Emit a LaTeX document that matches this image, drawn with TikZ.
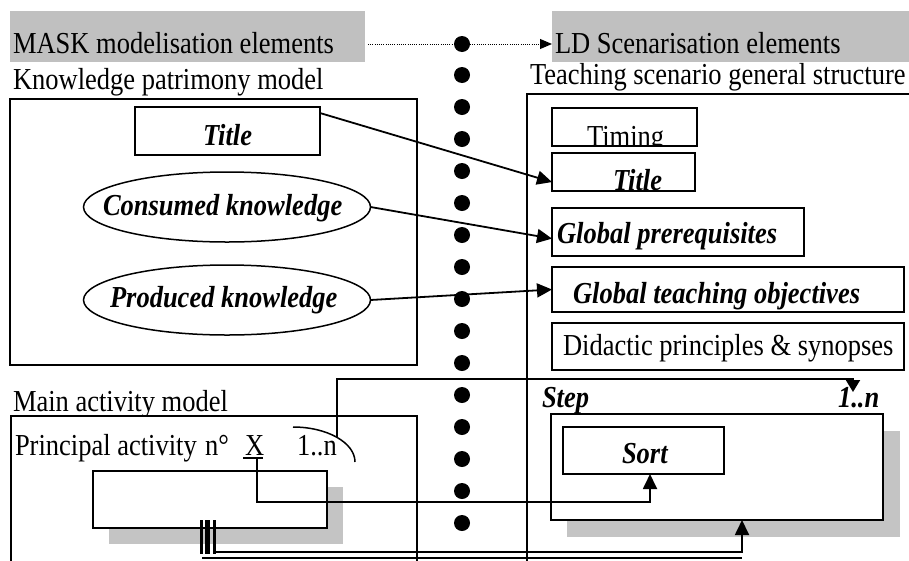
\documentclass[tikz,border=0pt]{standalone}
\usepackage{fontspec}
\usepackage{graphicx}
\setmainfont{Liberation Serif}
\usetikzlibrary{shapes.geometric,arrows.meta,calc}
\definecolor{hdrgray}{RGB}{192,192,192}
\definecolor{shgray}{RGB}{196,196,196}
\newcommand{\stt}[1]{\scalebox{1}[1.15]{#1}}
\begin{document}
\begin{tikzpicture}[x=1pt,y=-1pt,
  every node/.style={inner sep=0pt,outer sep=0pt},
  txt/.style={anchor=base west,font=\fontsize{26.5}{30}\selectfont},
  bitxt/.style={anchor=base west,font=\fontsize{26.5}{30}\selectfont\bfseries\itshape},
  box/.style={draw,line width=1.8pt,fill=white,rectangle},
  ell/.style={draw,ellipse,line width=1.5pt,minimum width=287pt,minimum height=70pt},
  arr/.style={line width=1.8pt,-{Triangle[length=15pt,width=14pt]}},
  link/.style={line width=1.8pt},
  hdr/.style={line width=1pt,dash pattern=on 1pt off 1.2pt},
  dot/.style={circle,fill=black,minimum size=16pt}]

\useasboundingbox (0,0) rectangle (909,560);
\clip (0,0) rectangle (909,560);

% header
\node[fill=hdrgray,minimum width=355pt,minimum height=51pt] (mask) at (187.5,36.5) {};
\node[fill=hdrgray,minimum width=363pt,minimum height=51pt] (ld) at (733.5,36.5) {};
\node[txt] (masktxt) at (13,53) {\stt{MASK modelisation elements}};
\node[txt] (ldtxt) at (555,53) {\stt{LD Scenarisation elements}};

% dots column
\node[dot] (hdot) at (462,44) {};
\foreach \k in {0,...,14} \node[dot] (d\k) at (462,75+32*\k) {};
\draw[hdr] ([xshift=3pt,yshift=-7.5pt]mask.east) -- (hdot.west);
\draw[hdr,-{Triangle[length=12pt,width=10pt]}] (hdot.east) -- (ld.west |- hdot);

% knowledge patrimony model
\node[txt] (ktxt) at (13,89) {\stt{Knowledge patrimony model}};
\node[box,minimum width=407pt,minimum height=266pt] (kbox) at (213.5,232) {};
\node[box,minimum width=185pt,minimum height=48pt] (ltitle) at (227.5,131) {};
\node[bitxt] (ltitlet) at (203,145) {\stt{Title}};
\node[ell] (cons) at (227,207) {};
\node[bitxt] (const) at (103,215) {\stt{Consumed knowledge}};
\node[ell] (prod) at (227,300) {};
\node[bitxt] (prodt) at (110,307) {\stt{Produced knowledge}};

% teaching scenario
\node[txt] (ttxt) at (530,84) {\stt{Teaching scenario general structure}};
\node[box,anchor=north west,minimum width=400pt,minimum height=500pt] (rbig) at (527,94) {};
\node[box,minimum width=145pt,minimum height=38pt] (timing) at (624.5,127) {};
\begin{scope}
\clip (timing.north west) rectangle (timing.south east);
\node[txt] (timingt) at (587,146) {\stt{Timing}};
\end{scope}
\node[box,minimum width=143pt,minimum height=38pt] (rtitle) at (623.5,172) {};
\begin{scope}
\clip (rtitle.north west) rectangle (rtitle.south east);
\node[bitxt] (rtitlet) at (613,190) {\stt{Title}};
\end{scope}
\node[box,minimum width=252pt,minimum height=48pt] (gpre) at (678,232) {};
\node[bitxt] (gpret) at (557,243) {\stt{Global prerequisites}};
\node[box,minimum width=352pt,minimum height=45pt] (gobj) at (728,289.5) {};
\node[bitxt] (gobjt) at (573,303) {\stt{Global teaching objectives}};
\node[box,minimum width=352pt,minimum height=47pt] (didac) at (728,346.5) {};
\node[txt] (didact) at (563,355) {\stt{Didactic principles \& synopses}};

% main activity model
\node[txt] (matxt) at (13,411) {\stt{Main activity model}};
\node[box,anchor=north west,minimum width=406pt,minimum height=200pt] (mabox) at (11,416) {};
\node[txt] (pat) at (15,455) {\stt{Principal activity}};
\node[txt] (pno) at (205,455) {\stt{n°}};
\node[txt] (xnode) at (243,455) {\makebox[0pt][l]{\rule[-4pt]{20pt}{1.8pt}}\hspace{2pt}\stt{X}};
\node[txt] (pn) at (297,455) {\stt{1..n}};
\fill[shgray] (109,487) rectangle (343,544);
\node[box,minimum width=234pt,minimum height=57pt] (act) at (210,499.5) {};

% step
\node[bitxt] (stept) at (542,407) {\stt{Step}};
\node[bitxt] (stepn) at (838,407) {\stt{1..n}};
\fill[shgray] (567,431) rectangle (900,537);
\node[box,minimum width=332pt,minimum height=106pt] (step) at (717,467) {};
\node[box,minimum width=161pt,minimum height=47pt] (sort) at (643.5,450.5) {};
\node[bitxt] (sortt) at (622,463) {\stt{Sort}};

% connectors
\draw[arr] (ltitle.11) -- (rtitle.188);
\draw[arr] (cons.east) -- (gpre.183);
\draw[arr] (prod.east) -- (gobj.west);

\coordinate (arcs) at (293,427);
\coordinate (arce) at (355,462);
\draw[line width=1.5pt] (arcs) .. controls (327.2,427) and (355,442.7) .. (arce) coordinate[pos=0.5] (arcpt);
\coordinate (steparr) at (853,392);
\draw[line width=1.8pt,-{Triangle[length=12pt,width=14pt]}] (arcpt) -- (arcpt |- 0,379) -| (steparr);

\coordinate (xin) at ([xshift=3.5pt]xnode.south);
\coordinate (sortin) at ([xshift=6.5pt]sort.south);
\draw[arr] (xin) -- (xin |- 0,502) -| (sortin);

\foreach \x/\w in {201/3,207.5/4.5,214.5/3} \draw[line width=\w pt] (\x,520) -- (\x,554);
\coordinate (barA) at (214,552);
\coordinate (barB) at (202,558);
\coordinate (stepin) at ([xshift=25pt]step.south);
\draw[arr] (barA) -| (stepin);
\draw[link] (barB) -- (barB -| stepin);
\end{tikzpicture}
\end{document}
